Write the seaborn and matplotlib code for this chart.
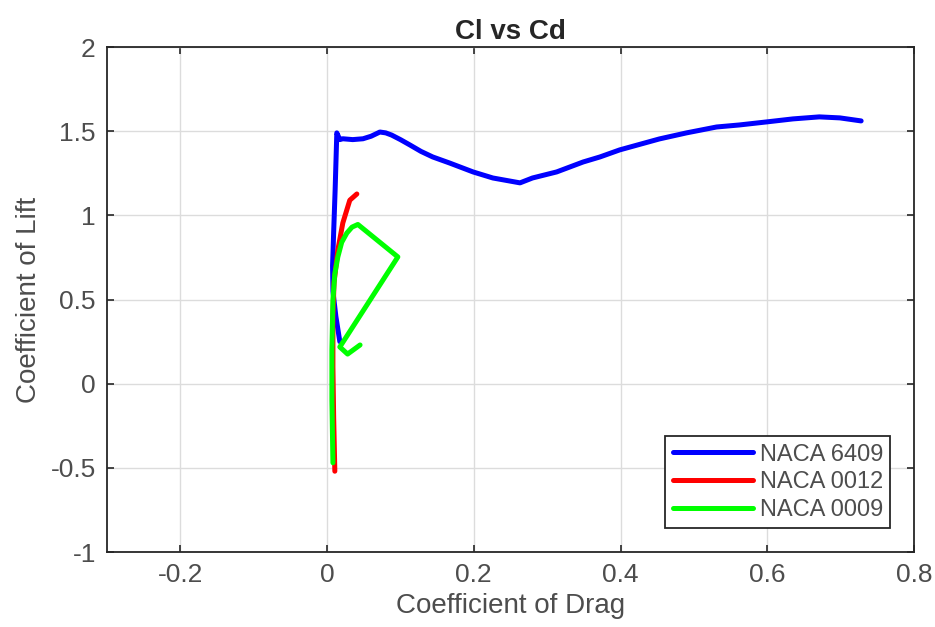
import matplotlib
matplotlib.use("Agg")
import matplotlib.pyplot as plt
import seaborn as sns
import pandas as pd

# Drag polar data for three airfoils
cd_6409 = [0.0174, 0.012, 0.008, 0.0075, 0.009, 0.011, 0.0133, 0.0174, 0.0215, 0.035,
           0.049, 0.060, 0.072, 0.080, 0.088, 0.100, 0.113, 0.128, 0.144, 0.167,
           0.199, 0.226, 0.263, 0.280, 0.313, 0.349, 0.372, 0.399, 0.453, 0.490,
           0.531, 0.562, 0.599, 0.635, 0.671, 0.699, 0.728]
cl_6409 = [0.25, 0.40, 0.55, 0.70, 0.90, 1.15, 1.49, 1.45, 1.455, 1.45,
           1.455, 1.47, 1.495, 1.49, 1.477, 1.45, 1.418, 1.38, 1.347, 1.311,
           1.258, 1.222, 1.193, 1.222, 1.258, 1.317, 1.347, 1.389, 1.454, 1.49,
           1.525, 1.537, 1.555, 1.573, 1.585, 1.579, 1.561]

cd_0012 = [0.0106, 0.009, 0.008, 0.008, 0.0095, 0.0147, 0.0215, 0.031, 0.0406]
cl_0012 = [-0.52, -0.2, 0.1, 0.4, 0.6, 0.794, 0.955, 1.09, 1.127]

cd_0009 = [0.008, 0.0066, 0.0066, 0.008, 0.0105, 0.0147, 0.020, 0.027, 0.034,
           0.042, 0.0965, 0.0174, 0.028, 0.045]
cl_0009 = [-0.47, -0.1, 0.2, 0.5, 0.65, 0.753, 0.84, 0.895, 0.93,
           0.946, 0.753, 0.218, 0.176, 0.23]

airfoils = ["NACA 6409", "NACA 0012", "NACA 0009"]
colors = {"NACA 6409": "#0000ff", "NACA 0012": "#ff0000", "NACA 0009": "#00ff00"}

frames = []
for name, cd, cl in zip(airfoils, [cd_6409, cd_0012, cd_0009], [cl_6409, cl_0012, cl_0009]):
    frames.append(pd.DataFrame({"Cd": cd, "Cl": cl, "Airfoil": name}))
df = pd.concat(frames, ignore_index=True)

sns.set_style("white")
plt.rcParams["font.family"] = ["Liberation Sans", "DejaVu Sans"]
text_col = "#262626"

fig = plt.figure(figsize=(9.35, 6.27), dpi=100)
ax = fig.add_axes([0.1144, 0.1196, 0.8631, 0.8054])

sns.lineplot(data=df, x="Cd", y="Cl", hue="Airfoil", hue_order=airfoils,
             palette=colors, sort=False, estimator=None, linewidth=3.6, ax=ax)

ax.set_xlim(-0.3, 0.8)
ax.set_ylim(-1, 2)
ax.set_xticks([-0.2, 0, 0.2, 0.4, 0.6, 0.8])
ax.set_xticklabels(["-0.2", "0", "0.2", "0.4", "0.6", "0.8"])
ax.set_yticks([-1, -0.5, 0, 0.5, 1, 1.5, 2])
ax.set_yticklabels(["-1", "-0.5", "0", "0.5", "1", "1.5", "2"])

ax.grid(True, color="#dcdcdc", linewidth=1.0)
ax.set_axisbelow(True)
for s in ax.spines.values():
    s.set_visible(True)
    s.set_color(text_col)
    s.set_linewidth(1.3)
ax.tick_params(direction="in", length=5, width=1.2, colors=text_col,
               labelsize=19, top=True, right=True, bottom=True, left=True,
               labelcolor="#4d4d4d", pad=8)

ax.set_xlabel("Coefficient of Drag", fontsize=20, color="#4d4d4d", labelpad=4)
ax.set_ylabel("Coefficient of Lift", fontsize=20, color="#4d4d4d", labelpad=6)
ax.set_title("Cl vs Cd", fontsize=20, fontweight="bold", color=text_col, pad=6)

leg = ax.legend(loc="lower right", fontsize=17, frameon=True, fancybox=False,
                edgecolor=text_col, framealpha=1, handlelength=3.4,
                borderaxespad=1.0, labelspacing=0.25, handletextpad=0.3,
                borderpad=0.3)
leg.get_frame().set_linewidth(1.3)
for line in leg.get_lines():
    line.set_linewidth(3.6)
for t in leg.get_texts():
    t.set_color("#4d4d4d")

fig.savefig("out.png", dpi=100)
